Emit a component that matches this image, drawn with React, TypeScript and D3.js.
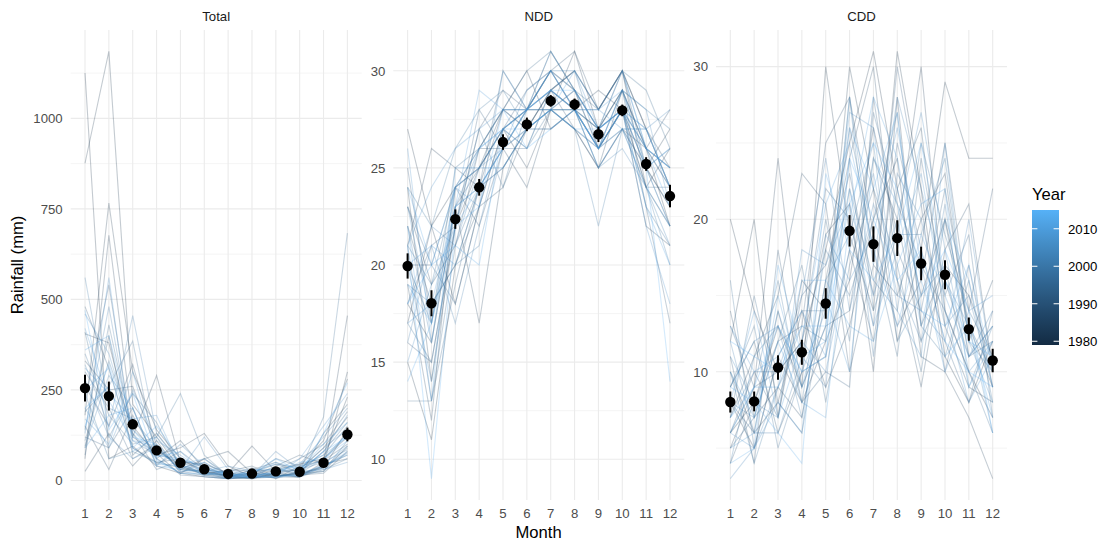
import React from "react";
import * as d3 from "d3";

const months = [1, 2, 3, 4, 5, 6, 7, 8, 9, 10, 11, 12];
const years = d3.range(1979, 2016);
const panels = ["Total", "NDD", "CDD"];

const totalRows = [
  [1125, 60, 95, 40, 20, 10, 5, 8, 12, 20, 35, 140],
  [876, 1185, 210, 120, 30, 25, 12, 15, 30, 45, 60, 230],
  [180, 766, 300, 140, 60, 20, 10, 5, 20, 15, 40, 300],
  [405, 380, 120, 290, 50, 45, 20, 95, 25, 30, 90, 175],
  [60, 677, 150, 70, 90, 130, 40, 10, 15, 10, 50, 455],
  [25, 130, 40, 110, 20, 60, 80, 20, 5, 40, 110, 280],
  [330, 250, 260, 85, 40, 15, 8, 30, 50, 20, 25, 95],
  [150, 30, 180, 60, 110, 30, 10, 12, 40, 70, 45, 60],
  [90, 400, 70, 130, 45, 20, 25, 40, 10, 8, 130, 210],
  [260, 150, 320, 95, 30, 60, 15, 5, 20, 30, 60, 120],
  [480, 310, 90, 50, 60, 25, 12, 20, 35, 15, 20, 80],
  [220, 540, 120, 75, 15, 10, 5, 10, 8, 25, 80, 160],
  [120, 90, 200, 45, 80, 30, 20, 15, 60, 40, 55, 100],
  [300, 200, 60, 100, 25, 15, 30, 25, 12, 18, 40, 70],
  [70, 430, 130, 30, 55, 40, 10, 8, 30, 60, 100, 190],
  [410, 120, 240, 160, 35, 20, 5, 12, 20, 10, 30, 60],
  [190, 260, 385, 60, 20, 50, 15, 35, 5, 25, 175, 683],
  [350, 180, 100, 120, 240, 70, 12, 20, 45, 35, 70, 150],
  [110, 330, 140, 80, 45, 15, 20, 10, 15, 12, 35, 90],
  [240, 60, 80, 50, 35, 25, 8, 5, 10, 20, 60, 130],
  [560, 200, 170, 90, 30, 20, 15, 25, 30, 15, 25, 110],
  [140, 480, 110, 70, 60, 35, 10, 12, 80, 30, 50, 85],
  [320, 150, 455, 130, 50, 30, 20, 10, 25, 45, 120, 200],
  [95, 290, 200, 40, 100, 40, 12, 20, 15, 10, 40, 75],
  [280, 120, 60, 90, 30, 120, 30, 15, 20, 30, 90, 140],
  [460, 350, 130, 60, 20, 15, 5, 8, 10, 25, 30, 50],
  [200, 90, 250, 110, 70, 25, 40, 25, 45, 20, 80, 180],
  [130, 560, 90, 45, 40, 20, 15, 10, 12, 60, 150, 240],
  [310, 240, 170, 180, 35, 50, 10, 15, 20, 12, 45, 95],
  [170, 100, 300, 70, 55, 10, 5, 30, 30, 40, 70, 120],
  [420, 220, 110, 95, 25, 30, 20, 10, 8, 15, 35, 80],
  [250, 310, 80, 120, 45, 60, 12, 20, 50, 30, 100, 160],
  [90, 180, 200, 40, 30, 25, 10, 8, 20, 50, 60, 110],
  [360, 400, 140, 65, 80, 15, 25, 15, 35, 20, 40, 70],
  [200, 260, 90, 150, 60, 40, 15, 10, 25, 35, 55, 130],
  [470, 140, 240, 55, 20, 20, 8, 12, 10, 18, 130, 270],
  [150, 320, 120, 100, 40, 30, 15, 20, 60, 25, 80, 120],
];

const nddRows = [
  [27, 22, 24, 26, 28, 27, 29, 30, 28, 30, 27, 24],
  [15, 11, 20, 24, 26, 28, 30, 29, 27, 29, 26, 22],
  [24, 14, 22, 25, 27, 28, 31, 29, 26, 28, 25, 27],
  [17, 22, 18, 23, 27, 25, 28, 31, 27, 30, 24, 26],
  [21, 26, 25, 24, 28, 30, 27, 28, 29, 28, 22, 21],
  [18, 16, 23, 17, 25, 27, 29, 28, 26, 27, 25, 23],
  [23, 19, 21, 26, 26, 24, 28, 27, 25, 29, 26, 24],
  [19, 12, 24, 25, 28, 28, 30, 31, 28, 30, 27, 25],
  [22, 18, 20, 23, 24, 27, 28, 28, 26, 28, 24, 22],
  [16, 15, 22, 27, 29, 28, 29, 27, 25, 27, 26, 28],
  [20, 20, 24, 22, 26, 27, 27, 28, 27, 29, 23, 17],
  [25, 17, 23, 25, 27, 29, 30, 28, 26, 28, 24, 24],
  [18, 21, 22, 28, 26, 26, 29, 30, 28, 30, 25, 23],
  [21, 13, 19, 24, 30, 28, 28, 29, 27, 28, 26, 25],
  [13, 13, 21, 24, 25, 27, 29, 28, 25, 27, 27, 24],
  [20, 17, 25, 26, 28, 30, 31, 29, 28, 30, 29, 26],
  [23, 20, 18, 23, 27, 26, 28, 27, 26, 29, 25, 22],
  [17, 15, 22, 27, 24, 28, 30, 28, 27, 28, 23, 21],
  [21, 19, 24, 25, 27, 28, 29, 30, 26, 28, 26, 25],
  [24, 22, 26, 28, 29, 27, 28, 28, 27, 29, 28, 27],
  [19, 18, 20, 21, 26, 28, 28, 27, 22, 27, 24, 20],
  [22, 16, 23, 24, 25, 27, 28, 29, 26, 28, 25, 26],
  [16, 21, 17, 22, 27, 28, 30, 28, 28, 30, 26, 24],
  [20, 14, 23, 26, 28, 27, 27, 28, 25, 26, 24, 21],
  [18, 22, 21, 25, 26, 29, 30, 29, 27, 28, 27, 28],
  [23, 17, 24, 23, 30, 28, 28, 27, 26, 29, 28, 23],
  [15, 19, 22, 26, 27, 26, 29, 28, 28, 27, 25, 22],
  [21, 24, 26, 27, 28, 28, 30, 30, 27, 28, 22, 18],
  [26, 16, 24, 25, 27, 28, 29, 28, 26, 29, 26, 25],
  [20, 21, 20, 24, 26, 27, 28, 28, 25, 27, 24, 22],
  [17, 18, 23, 29, 28, 28, 31, 29, 27, 28, 27, 24],
  [22, 13, 25, 25, 25, 27, 28, 30, 28, 29, 25, 26],
  [19, 17, 22, 24, 26, 28, 29, 28, 26, 28, 23, 20],
  [24, 20, 21, 20, 27, 27, 28, 27, 27, 30, 26, 23],
  [14, 17, 23, 24, 26, 28, 30, 28, 26, 27, 27, 24],
  [21, 9, 22, 23, 28, 26, 27, 28, 26, 28, 25, 14],
  [18, 20, 24, 26, 27, 28, 29, 29, 27, 28, 26, 25],
];

const cddRows = [
  [20, 14, 10, 12, 18, 25, 31, 22, 15, 20, 13, 9],
  [6, 8, 13, 9, 30, 19, 14, 31, 22, 11, 8, 12],
  [12, 20, 7, 16, 14, 30, 22, 12, 18, 29, 24, 24],
  [8, 5, 11, 8, 12, 16, 26, 19, 30, 14, 10, 7],
  [5, 9, 24, 11, 19, 21, 10, 28, 13, 17, 15, 11],
  [10, 6, 8, 14, 9, 13, 20, 24, 11, 10, 7, 3],
  [7, 11, 15, 23, 21, 10, 17, 15, 20, 23, 12, 16],
  [14, 7, 9, 7, 16, 24, 30, 16, 9, 18, 21, 10],
  [9, 12, 6, 10, 11, 18, 12, 22, 26, 13, 9, 8],
  [4, 8, 12, 13, 25, 28, 19, 13, 16, 25, 14, 22],
  [11, 4, 18, 9, 13, 14, 24, 20, 12, 16, 11, 13],
  [6, 10, 7, 15, 17, 23, 15, 30, 21, 10, 17, 9],
  [8, 6, 14, 8, 10, 9, 28, 18, 14, 22, 13, 10],
  [13, 9, 10, 12, 22, 20, 13, 25, 18, 12, 8, 14],
  [7, 15, 8, 6, 15, 26, 18, 11, 24, 15, 19, 7],
  [5, 7, 12, 17, 8, 17, 22, 17, 10, 20, 11, 12],
  [9, 13, 5, 10, 20, 12, 27, 21, 17, 14, 10, 6],
  [16, 5, 11, 14, 14, 22, 16, 14, 25, 19, 14, 11],
  [6, 9, 16, 8, 18, 15, 20, 27, 13, 11, 16, 8],
  [10, 4, 9, 13, 12, 28, 14, 19, 19, 24, 12, 10],
  [4, 11, 13, 7, 16, 19, 25, 12, 15, 17, 9, 13],
  [12, 6, 6, 11, 9, 24, 11, 23, 20, 13, 15, 9],
  [7, 10, 10, 15, 24, 14, 21, 16, 12, 21, 11, 14],
  [8, 7, 14, 9, 13, 28, 17, 28, 22, 16, 13, 6],
  [3, 5, 9, 12, 10, 18, 23, 15, 14, 12, 20, 10],
  [11, 8, 7, 18, 17, 21, 15, 20, 27, 18, 10, 12],
  [9, 12, 13, 10, 14, 27, 26, 14, 11, 25, 12, 8],
  [6, 5, 8, 6, 19, 16, 19, 26, 17, 10, 14, 15],
  [13, 10, 11, 14, 11, 22, 13, 18, 23, 14, 8, 11],
  [5, 6, 15, 9, 15, 10, 24, 21, 13, 20, 16, 9],
  [8, 14, 7, 12, 21, 25, 18, 13, 19, 15, 11, 13],
  [10, 7, 12, 8, 7, 20, 28, 24, 16, 11, 13, 7],
  [6, 9, 9, 16, 16, 13, 12, 17, 21, 22, 9, 12],
  [4, 5, 17, 11, 12, 26, 22, 27, 14, 13, 17, 10],
  [9, 8, 6, 4, 23, 18, 16, 19, 25, 16, 12, 11],
  [12, 11, 10, 13, 13, 21, 25, 22, 15, 18, 14, 6],
  [7, 9, 13, 10, 11, 24, 20, 16, 18, 12, 10, 9],
];

const totalMean = [255, 233, 155, 83, 49, 31, 18, 19, 25, 24, 49, 127];
const totalErr = [37, 40, 13, 7, 5, 4, 3, 3, 3, 3, 6, 19];
const nddMean = [19.95, 18.03, 22.36, 24.0, 26.33, 27.24, 28.45, 28.27, 26.73, 27.96, 25.2, 23.55];
const nddErr = [0.65, 0.67, 0.5, 0.43, 0.4, 0.35, 0.3, 0.3, 0.4, 0.3, 0.35, 0.58];
const cddMean = [8.02, 8.06, 10.28, 11.28, 14.48, 19.24, 18.37, 18.76, 17.1, 16.36, 12.8, 10.74];
const cddErr = [0.69, 0.65, 0.8, 0.82, 1.0, 1.03, 1.16, 1.17, 1.1, 0.95, 0.76, 0.77];

const totalTicks = [0, 250, 500, 750, 1000];
const nddTicks = [10, 15, 20, 25, 30];
const cddTicks = [10, 20, 30];
const legendTicks = [1980, 1990, 2000, 2010];

const W = 1099;
const H = 543;
const panelTop = 30;
const panelBottom = 500;
const panelLefts = [70.7, 393.3, 716];
const panelWidth = 291;
const FONT = "'Liberation Sans', Arial, Helvetica, sans-serif";
const SMALL = 13.2;
const BIG = 16.6;

const colorScale = d3
  .scaleLinear<string>()
  .domain([1979, 2015])
  .range(["#132B43", "#56B1F7"])
  .interpolate(d3.interpolateLab);

const panelData = [
  { rows: totalRows, mean: totalMean, err: totalErr, ticks: totalTicks },
  { rows: nddRows, mean: nddMean, err: nddErr, ticks: nddTicks },
  { rows: cddRows, mean: cddMean, err: cddErr, ticks: cddTicks },
];

function Panel({ idx }: { idx: number }) {
  const pd = panelData[idx];
  const left = panelLefts[idx];
  const x = d3.scaleLinear().domain([0.4, 12.6]).range([left, left + panelWidth]);
  const all = pd.rows.flat();
  const lo = d3.min(all) as number;
  const hi = d3.max(all) as number;
  const r = hi - lo;
  const y = d3
    .scaleLinear()
    .domain([lo - 0.05 * r, hi + 0.05 * r])
    .range([panelBottom, panelTop]);
  const step = pd.ticks[1] - pd.ticks[0];
  const [d0, d1] = y.domain();
  const minor: number[] = [];
  for (let v = pd.ticks[0] - step / 2; v <= d1; v += step) {
    if (v >= d0 && !pd.ticks.includes(v)) minor.push(v);
  }
  const line = d3
    .line<number>()
    .x((_, i) => x(months[i]))
    .y((v) => y(v));
  return (
    <g>
      {minor.map((v) => (
        <line key={"mn" + v} x1={left} x2={left + panelWidth} y1={y(v)} y2={y(v)} stroke="#EBEBEB" strokeWidth={0.55} />
      ))}
      {pd.ticks.map((v) => (
        <line key={"mj" + v} x1={left} x2={left + panelWidth} y1={y(v)} y2={y(v)} stroke="#EBEBEB" strokeWidth={1.1} />
      ))}
      {months.map((m) => (
        <line key={"vx" + m} x1={x(m)} x2={x(m)} y1={panelTop} y2={panelBottom} stroke="#EBEBEB" strokeWidth={1.1} />
      ))}
      {pd.rows.map((row, i) => (
        <path key={"ln" + i} d={line(row) as string} fill="none" stroke={colorScale(years[i])} strokeOpacity={0.25} strokeWidth={1.1} />
      ))}
      {months.map((m, i) => (
        <line key={"eb" + m} x1={x(m)} x2={x(m)} y1={y(pd.mean[i] - pd.err[i])} y2={y(pd.mean[i] + pd.err[i])} stroke="#000" strokeWidth={2} />
      ))}
      {months.map((m, i) => (
        <circle key={"pt" + m} cx={x(m)} cy={y(pd.mean[i])} r={5.2} fill="#000" />
      ))}
      {pd.ticks.map((v) => (
        <text key={"yl" + v} x={left - 8} y={y(v)} dy="0.36em" textAnchor="end" fontSize={SMALL} fill="#4D4D4D" fontFamily={FONT}>
          {v}
        </text>
      ))}
      {months.map((m) => (
        <text key={"xl" + m} x={x(m)} y={518} textAnchor="middle" fontSize={SMALL} fill="#4D4D4D" fontFamily={FONT}>
          {m}
        </text>
      ))}
      <text x={left + panelWidth / 2} y={20.5} textAnchor="middle" fontSize={SMALL} fill="#1A1A1A" fontFamily={FONT}>
        {panels[idx]}
      </text>
    </g>
  );
}

function Legend() {
  const barX = 1032;
  const barW = 27;
  const barTop = 210;
  const barBottom = 345;
  const ly = d3.scaleLinear().domain([1979, 2015]).range([barBottom, barTop]);
  const stops = d3.range(0, 1.0001, 0.05);
  return (
    <g>
      <defs>
        <linearGradient id="yearGrad" x1="0" y1="1" x2="0" y2="0">
          {stops.map((s) => (
            <stop key={s} offset={s} stopColor={colorScale(1979 + s * 36)} />
          ))}
        </linearGradient>
      </defs>
      <text x={barX} y={200} fontSize={BIG} fill="#000" fontFamily={FONT}>
        Year
      </text>
      <rect x={barX} y={barTop} width={barW} height={barBottom - barTop} fill="url(#yearGrad)" />
      {legendTicks.map((t) => (
        <g key={t}>
          <line x1={barX} x2={barX + 5.4} y1={ly(t)} y2={ly(t)} stroke="#fff" strokeWidth={1} />
          <line x1={barX + barW - 5.4} x2={barX + barW} y1={ly(t)} y2={ly(t)} stroke="#fff" strokeWidth={1} />
          <text x={1068} y={ly(t)} dy="0.36em" fontSize={SMALL} fill="#000" fontFamily={FONT}>
            {t}
          </text>
        </g>
      ))}
    </g>
  );
}

export default function App() {
  return (
    <svg width={W} height={H} style={{ position: "absolute", left: 0, top: 0, background: "#fff" }}>
      <rect width={W} height={H} fill="#fff" />
      {panels.map((_, i) => (
        <Panel key={i} idx={i} />
      ))}
      <text x={538.6} y={538} textAnchor="middle" fontSize={BIG} fill="#000" fontFamily={FONT}>
        Month
      </text>
      <text transform={`translate(23,265) rotate(-90)`} textAnchor="middle" fontSize={BIG} fill="#000" fontFamily={FONT}>
        Rainfall (mm)
      </text>
      <Legend />
    </svg>
  );
}
